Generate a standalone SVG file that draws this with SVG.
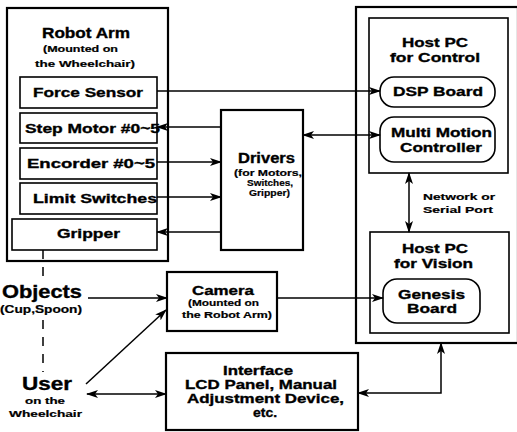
<svg xmlns="http://www.w3.org/2000/svg" width="517" height="432" viewBox="0 0 517 432">
<style>
.box{fill:none;stroke:#000;stroke-width:1.6}
.big{fill:none;stroke:#000;stroke-width:2.2}
.ln{fill:none;stroke:#000;stroke-width:1.5}
text{font-family:"Liberation Sans",Arial,sans-serif;font-weight:bold;fill:#000;stroke:#000;stroke-width:0.35}
.t14{font-size:14px}
.t13{font-size:13px}
.t9{font-size:9px;stroke-width:0.2}
.t18{font-size:18px}
</style>
<defs>
<marker id="ah" viewBox="0 0 12 8" refX="11" refY="4" markerWidth="12" markerHeight="8" markerUnits="userSpaceOnUse" orient="auto-start-reverse">
<path d="M0,0 L12,4 L0,8 L3,4 z" fill="#000"/>
</marker>
</defs>
<rect width="517" height="432" fill="#fff"/>

<g id="robot-arm">
<rect class="big" x="7" y="8" width="161" height="253"/>
<text class="t14" x="42" y="38" textLength="88" lengthAdjust="spacingAndGlyphs">Robot Arm</text>
<text class="t9" x="43" y="52" textLength="75" lengthAdjust="spacingAndGlyphs">(Mounted on</text>
<text class="t9" x="35" y="67" textLength="100" lengthAdjust="spacingAndGlyphs">the Wheelchair)</text>
</g>
<g id="force-sensor">
<rect class="box" x="20" y="77" width="137" height="31"/>
<text class="t13" x="33" y="97" textLength="110" lengthAdjust="spacingAndGlyphs">Force Sensor</text>
</g>
<g id="step-motor">
<rect class="box" x="20" y="113" width="137" height="30"/>
<text class="t13" x="25" y="133" textLength="135" lengthAdjust="spacingAndGlyphs">Step Motor #0~5</text>
</g>
<g id="encorder">
<rect class="box" x="20" y="148" width="137" height="31"/>
<text class="t13" x="27" y="168" textLength="128" lengthAdjust="spacingAndGlyphs">Encorder #0~5</text>
</g>
<g id="limit-switches">
<rect class="box" x="20" y="183" width="137" height="31"/>
<text class="t13" x="33" y="203" textLength="124" lengthAdjust="spacingAndGlyphs">Limit Switches</text>
</g>
<g id="gripper">
<rect class="box" x="12" y="219" width="145" height="31"/>
<text class="t13" x="57" y="238" textLength="63" lengthAdjust="spacingAndGlyphs">Gripper</text>
</g>

<g id="drivers">
<rect class="big" x="221" y="110" width="82" height="140"/>
<text class="t14" x="238" y="163" textLength="57" lengthAdjust="spacingAndGlyphs">Drivers</text>
<text class="t9" x="234" y="176" textLength="68" lengthAdjust="spacingAndGlyphs">(for Motors,</text>
<text class="t9" x="247" y="186" textLength="46" lengthAdjust="spacingAndGlyphs">Switches,</text>
<text class="t9" x="249" y="196" textLength="41" lengthAdjust="spacingAndGlyphs">Gripper)</text>
</g>

<g id="host-pc">
<rect class="big" x="356" y="7" width="162" height="336"/>
</g>
<g id="host-pc-control">
<rect class="box" x="369" y="18" width="139" height="155"/>
<text class="t13" x="402" y="47" textLength="66" lengthAdjust="spacingAndGlyphs">Host PC</text>
<text class="t13" x="390" y="62" textLength="90" lengthAdjust="spacingAndGlyphs">for Control</text>
</g>
<g id="dsp-board">
<rect class="box" x="380" y="77" width="115" height="30" rx="14"/>
<text class="t13" x="393" y="96" textLength="90" lengthAdjust="spacingAndGlyphs">DSP Board</text>
</g>
<g id="multi-motion">
<rect class="box" x="380" y="117" width="115" height="45" rx="14"/>
<text class="t13" x="391" y="137" textLength="101" lengthAdjust="spacingAndGlyphs">Multi Motion</text>
<text class="t13" x="400" y="152" textLength="82" lengthAdjust="spacingAndGlyphs">Controller</text>
</g>
<g id="network-label">
<text class="t9" x="423" y="200" textLength="72" lengthAdjust="spacingAndGlyphs">Network or</text>
<text class="t9" x="423" y="213" textLength="70" lengthAdjust="spacingAndGlyphs">Serial Port</text>
</g>
<g id="host-pc-vision">
<rect class="box" x="370" y="232" width="139" height="101"/>
<text class="t13" x="402" y="253" textLength="66" lengthAdjust="spacingAndGlyphs">Host PC</text>
<text class="t13" x="394" y="268" textLength="79" lengthAdjust="spacingAndGlyphs">for Vision</text>
</g>
<g id="genesis">
<rect class="box" x="383" y="279" width="97" height="44" rx="14"/>
<text class="t13" x="398" y="299" textLength="67" lengthAdjust="spacingAndGlyphs">Genesis</text>
<text class="t13" x="407" y="313" textLength="50" lengthAdjust="spacingAndGlyphs">Board</text>
</g>

<g id="camera">
<rect class="big" x="167" y="272" width="110" height="59"/>
<text class="t13" x="192" y="295" textLength="62" lengthAdjust="spacingAndGlyphs">Camera</text>
<text class="t9" x="188" y="306" textLength="71" lengthAdjust="spacingAndGlyphs">(Mounted on</text>
<text class="t9" x="182" y="318" textLength="90" lengthAdjust="spacingAndGlyphs">the Robot Arm)</text>
</g>
<g id="interface">
<rect class="big" x="166" y="353" width="192" height="77"/>
<text class="t13" x="223" y="375" textLength="70" lengthAdjust="spacingAndGlyphs">Interface</text>
<text class="t13" x="185" y="389" textLength="152" lengthAdjust="spacingAndGlyphs">LCD Panel, Manual</text>
<text class="t13" x="187" y="403" textLength="157" lengthAdjust="spacingAndGlyphs">Adjustment Device,</text>
<text class="t13" x="253" y="417" textLength="24" lengthAdjust="spacingAndGlyphs">etc.</text>
</g>

<g id="objects">
<text class="t18" x="2" y="298" textLength="80" lengthAdjust="spacingAndGlyphs">Objects</text>
<text class="t9" x="0" y="313" textLength="82" lengthAdjust="spacingAndGlyphs" style="font-size:10px">(Cup,Spoon)</text>
</g>
<g id="user">
<text class="t18" x="22" y="390" textLength="50" lengthAdjust="spacingAndGlyphs">User</text>
<text class="t9" x="25" y="404" textLength="40" lengthAdjust="spacingAndGlyphs">on the</text>
<text class="t9" x="9" y="417" textLength="73" lengthAdjust="spacingAndGlyphs">Wheelchair</text>
</g>

<g id="connectors">
<line class="ln" x1="157" y1="91" x2="380" y2="91" marker-end="url(#ah)"/>
<line class="ln" x1="221" y1="127" x2="157" y2="127" marker-end="url(#ah)"/>
<line class="ln" x1="157" y1="162" x2="221" y2="162" marker-end="url(#ah)"/>
<line class="ln" x1="157" y1="197" x2="221" y2="197" marker-end="url(#ah)"/>
<line class="ln" x1="221" y1="232" x2="157" y2="232" marker-end="url(#ah)"/>
<line class="ln" x1="303" y1="135" x2="380" y2="135" marker-start="url(#ah)" marker-end="url(#ah)"/>
<line class="ln" x1="409" y1="173" x2="409" y2="232" stroke-width="2" marker-start="url(#ah)" marker-end="url(#ah)"/>
<line class="ln" x1="88" y1="298" x2="167" y2="298" marker-end="url(#ah)"/>
<line class="ln" x1="86" y1="384" x2="166" y2="310" marker-end="url(#ah)"/>
<line class="ln" x1="87" y1="394" x2="166" y2="394" marker-start="url(#ah)" marker-end="url(#ah)"/>
<line class="ln" x1="277" y1="298" x2="383" y2="298" marker-end="url(#ah)"/>
<path class="ln" d="M358,393 H441 V343" marker-start="url(#ah)" marker-end="url(#ah)"/>
<line class="ln" x1="43" y1="250" x2="43" y2="279" stroke-dasharray="9,8"/>
<line class="ln" x1="43" y1="320" x2="43" y2="372" stroke-dasharray="9,8"/>
</g>
</svg>
